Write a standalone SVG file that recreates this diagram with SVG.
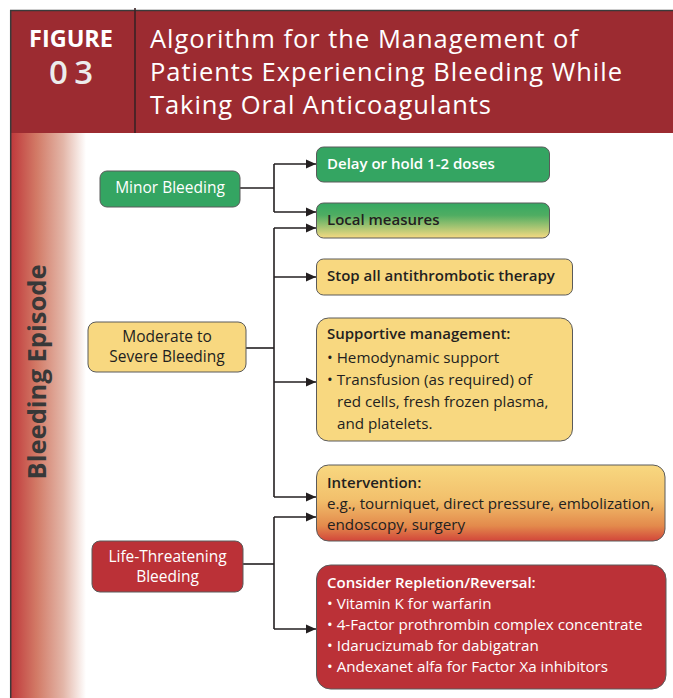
<svg xmlns="http://www.w3.org/2000/svg" width="673" height="698" viewBox="0 0 673 698">
  <defs>
    <linearGradient id="sideFade" x1="0" y1="0" x2="1" y2="0">
      <stop offset="0" stop-color="#bf363a"/>
      <stop offset="0.35" stop-color="#d27a66"/>
      <stop offset="0.7" stop-color="#e3b6a8"/>
      <stop offset="1" stop-color="#ffffff"/>
    </linearGradient>
    <linearGradient id="greenToYellow" x1="0" y1="0" x2="0" y2="1">
      <stop offset="0" stop-color="#35a862"/>
      <stop offset="0.35" stop-color="#4fad62"/>
      <stop offset="1" stop-color="#f6da82"/>
    </linearGradient>
    <linearGradient id="yellowToRed" x1="0" y1="0" x2="0" y2="1">
      <stop offset="0" stop-color="#f8d880"/>
      <stop offset="0.45" stop-color="#f2c06c"/>
      <stop offset="0.8" stop-color="#e38a4c"/>
      <stop offset="1" stop-color="#d2463a"/>
    </linearGradient>
    <marker id="arrow" viewBox="0 0 10 10" refX="10" refY="5" markerWidth="10" markerHeight="10" markerUnits="userSpaceOnUse" orient="auto">
      <path d="M0,0.5 L10,5 L0,9.5 Z" fill="#231f20"/>
    </marker>
    <style>
      text { font-family: "Open Sans", "Noto Sans", "Liberation Sans", sans-serif; }
      .box { stroke: #5a5a5a; stroke-width: 1; }
      .green { fill: #34a562; }
      .yellow { fill: #f8d880; }
      .red { fill: #bb3137; }
      .lbl { font-size: 15.5px; text-anchor: middle; }
      .w { fill: #ffffff; }
      .d { fill: #231f20; }
      .head { font-size: 15px; font-weight: 600; }
      .body { font-size: 15.2px; }
      .conn path { fill: none; stroke: #231f20; stroke-width: 1.6; }
      .conn path.arr { marker-end: url(#arrow); }
    </style>
  </defs>

  <rect width="673" height="698" fill="#ffffff"/>

  <!-- title banner -->
  <g id="banner">
    <rect x="10" y="10" width="663" height="123" fill="#9c2b31"/>
    <line x1="10" y1="10.5" x2="673" y2="10.5" stroke="#3a3a3a" stroke-width="1.5"/>
    <line x1="135" y1="8" x2="135" y2="133" stroke="#3a2225" stroke-width="1.6"/>
    <text x="71" y="47" font-size="24" font-weight="700" fill="#ffffff" text-anchor="middle" textLength="84" lengthAdjust="spacingAndGlyphs">FIGURE</text>
    <text x="71" y="84" font-size="33" font-weight="600" fill="#ececec" text-anchor="middle" textLength="44" lengthAdjust="spacing">03</text>
    <text x="150" y="48" font-size="25.5" fill="#ffffff" textLength="428" lengthAdjust="spacing">Algorithm for the Management of</text>
    <text x="150" y="81" font-size="25.5" fill="#ffffff" textLength="472" lengthAdjust="spacing">Patients Experiencing Bleeding While</text>
    <text x="150" y="114" font-size="25.5" fill="#ffffff" textLength="341" lengthAdjust="spacing">Taking Oral Anticoagulants</text>
  </g>

  <!-- side band -->
  <g id="side-band">
    <rect x="10" y="133" width="76" height="565" fill="url(#sideFade)"/>
    <line x1="10.7" y1="10" x2="10.7" y2="698" stroke="#3a3a3a" stroke-width="1.5"/>
    <text transform="translate(46 372) rotate(-90)" font-size="25" font-weight="700" fill="#383838" text-anchor="middle" textLength="215" lengthAdjust="spacingAndGlyphs">Bleeding Episode</text>
  </g>

  <!-- connectors -->
  <g id="connectors" class="conn">
    <path d="M240,188 H274"/>
    <path d="M274,164 V212"/>
    <path class="arr" d="M274,164 H316"/>
    <path class="arr" d="M274,212 H316"/>

    <path d="M246,348 H274"/>
    <path d="M274,228 V497"/>
    <path class="arr" d="M274,228 H316"/>
    <path class="arr" d="M274,277 H316"/>
    <path class="arr" d="M274,382 H316"/>
    <path class="arr" d="M274,497 H316"/>

    <path d="M243,564 H274"/>
    <path d="M274,517 V629"/>
    <path class="arr" d="M274,517 H316"/>
    <path class="arr" d="M274,629 H316"/>
  </g>

  <!-- severity nodes -->
  <g id="minor">
    <rect class="box green" x="100" y="171" width="140" height="36" rx="7"/>
    <text class="lbl w" x="170" y="193">Minor Bleeding</text>
  </g>
  <g id="moderate">
    <rect class="box yellow" x="88" y="322" width="158" height="50" rx="8"/>
    <text class="lbl d" x="167" y="342">Moderate to</text>
    <text class="lbl d" x="167" y="362">Severe Bleeding</text>
  </g>
  <g id="life-threatening">
    <rect class="box red" x="92" y="541" width="151" height="51" rx="8"/>
    <text class="lbl w" x="167.5" y="562">Life-Threatening</text>
    <text class="lbl w" x="167.5" y="582">Bleeding</text>
  </g>

  <!-- action nodes -->
  <g id="delay">
    <rect class="box green" x="316.5" y="147" width="233" height="35" rx="7"/>
    <text class="head w" x="327" y="169">Delay or hold 1-2 doses</text>
  </g>
  <g id="local">
    <rect class="box" fill="url(#greenToYellow)" x="316.5" y="203" width="233" height="35" rx="7"/>
    <text class="head d" x="327" y="225">Local measures</text>
  </g>
  <g id="stop">
    <rect class="box yellow" x="316.5" y="259" width="256" height="36" rx="7"/>
    <text class="head d" x="327" y="281">Stop all antithrombotic therapy</text>
  </g>
  <g id="supportive">
    <rect class="box yellow" x="316.5" y="318" width="256" height="123" rx="12"/>
    <text class="head d" x="327" y="339">Supportive management:</text>
    <text class="body d" x="327" y="363">• Hemodynamic support</text>
    <text class="body d" x="327" y="385">• Transfusion (as required) of</text>
    <text class="body d" x="337" y="407">red cells, fresh frozen plasma,</text>
    <text class="body d" x="337" y="429">and platelets.</text>
  </g>
  <g id="intervention">
    <rect class="box" fill="url(#yellowToRed)" x="316.5" y="465" width="348.5" height="76" rx="12"/>
    <text class="head d" x="327" y="488">Intervention:</text>
    <text class="body d" x="327" y="509">e.g., tourniquet, direct pressure, embolization,</text>
    <text class="body d" x="327" y="530">endoscopy, surgery</text>
  </g>
  <g id="reversal">
    <rect class="box red" x="316.5" y="565" width="349.5" height="124" rx="14"/>
    <text class="head w" x="327" y="588">Consider Repletion/Reversal:</text>
    <text class="body w" x="327" y="609">•  Vitamin K for warfarin</text>
    <text class="body w" x="327" y="630">•  4-Factor prothrombin complex concentrate</text>
    <text class="body w" x="327" y="651">•  Idarucizumab for dabigatran</text>
    <text class="body w" x="327" y="672">•  Andexanet alfa for Factor Xa inhibitors</text>
  </g>
</svg>
